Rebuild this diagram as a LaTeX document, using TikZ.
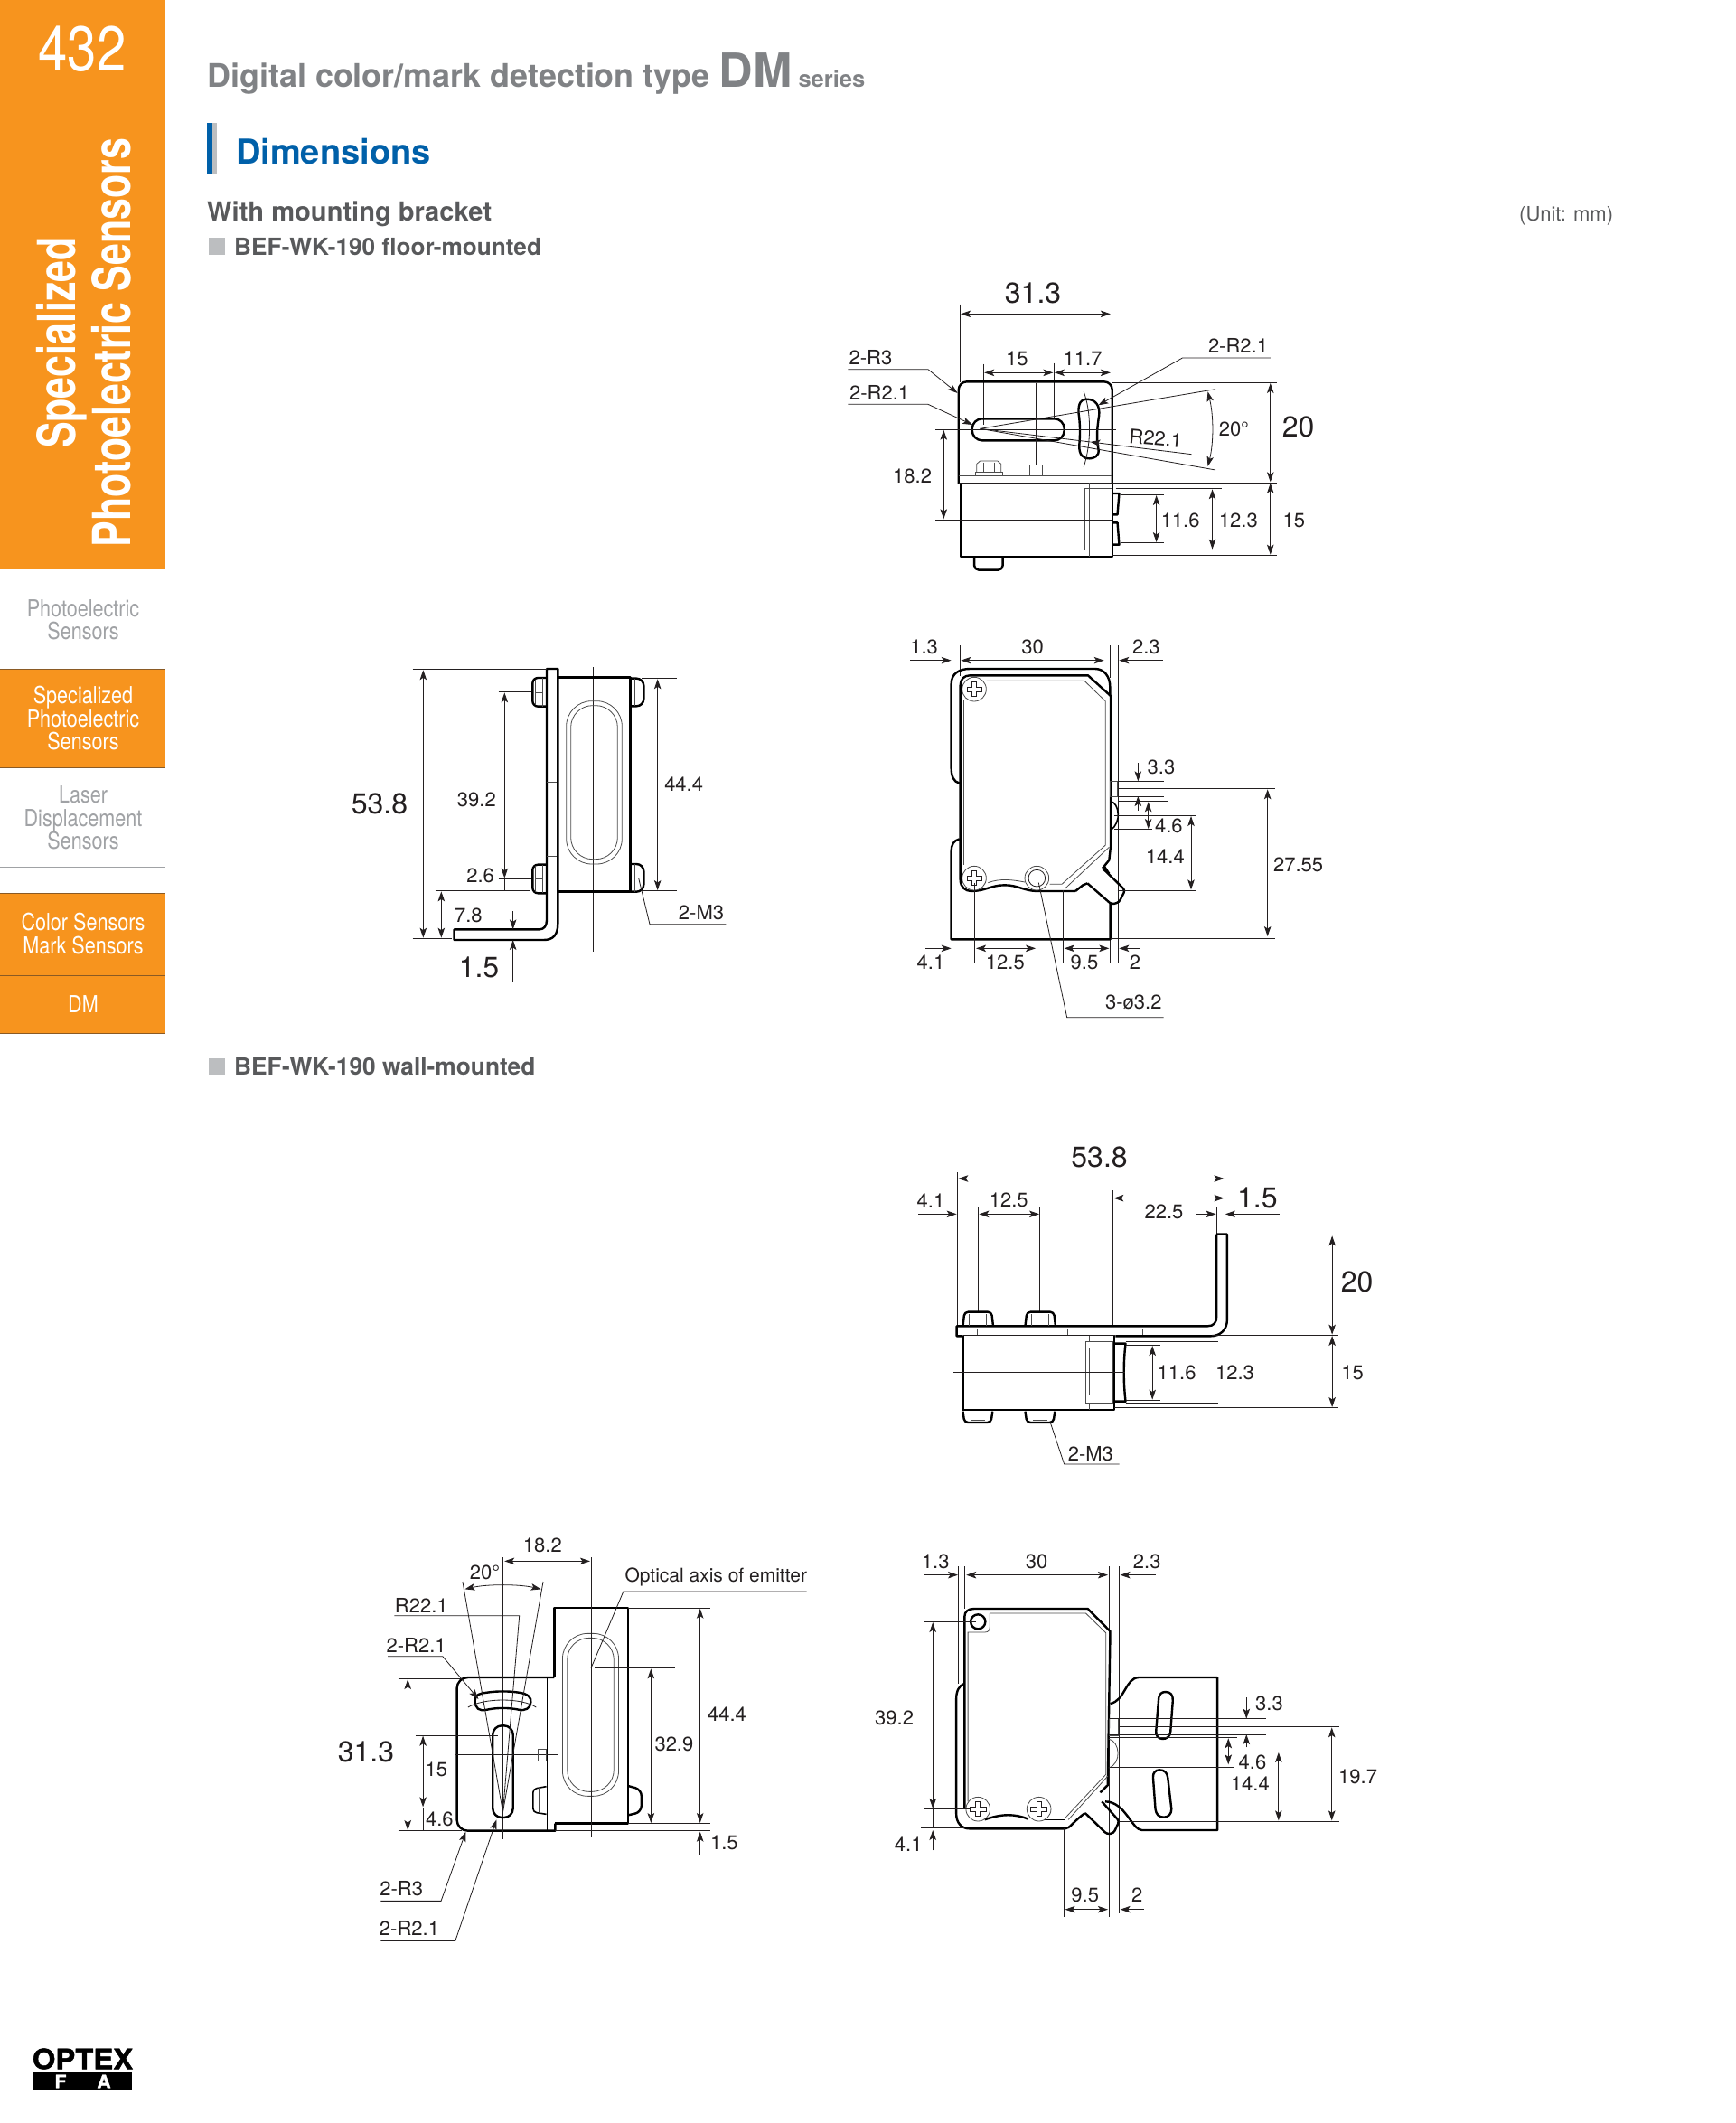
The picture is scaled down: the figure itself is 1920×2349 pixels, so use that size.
\documentclass[tikz,border=0pt]{standalone}
\usepackage{fontspec}
\setmainfont{TeX Gyre Heros}
\newfontfamily\condfont[FakeStretch=0.83]{TeX Gyre Heros}
\newfontfamily\sidefont[FakeStretch=0.74]{TeX Gyre Heros}
\newfontfamily\logofont[FakeStretch=1.06,FakeBold=1.5]{TeX Gyre Heros}
\usetikzlibrary{arrows.meta}
\usetikzlibrary{calc}
\definecolor{tabor}{HTML}{F7941E}
\definecolor{tabln}{HTML}{8A5A24}
\definecolor{ttlgr}{HTML}{808285}
\definecolor{txtgr}{HTML}{58595B}
\definecolor{sqrgr}{HTML}{BCBEC0}
\definecolor{sidgr}{HTML}{A0A2A5}
\definecolor{dimbl}{HTML}{0060A9}
\definecolor{inkcl}{HTML}{231F20}
\newcommand{\fsz}[1]{\fontsize{#1}{#1}\selectfont}
\newcommand{\plusmark}[2]{\draw[inkcl,line width=.8pt] (#1,#2) ++(-7,-24) -- ++(14,0) -- ++(0,17) -- ++(17,0) -- ++(0,14) -- ++(-17,0) -- ++(0,17) -- ++(-14,0) -- ++(0,-17) -- ++(-17,0) -- ++(0,-14) -- ++(17,0) -- cycle;}
\tikzset{
 bodyln/.style={black,line width=2.4pt,line join=round},
 fineln/.style={black!70,line width=.8pt},
 extln/.style={inkcl,line width=.8pt},
 dimln/.style={inkcl,line width=.8pt,{Stealth[length=11pt,width=7.5pt,inset=2.5pt]}-{Stealth[length=11pt,width=7.5pt,inset=2.5pt]}},
 oneln/.style={inkcl,line width=.8pt,-{Stealth[length=11pt,width=7.5pt,inset=2.5pt]}},
 dimtxt/.style={text=inkcl,font=\fsz{22},inner sep=0pt},
 bigtxt/.style={text=inkcl,font=\fsz{32},inner sep=0pt},
 sidtxt/.style={align=center,inner sep=0pt,font=\condfont\fontsize{26}{25.5}\selectfont},
}
\begin{document}
\begin{tikzpicture}[x=1pt,y=-1pt]
\useasboundingbox (0,0) rectangle (1920,2349);
\fill[white] (0,0) rectangle (1920,2349);
% side tab
\fill[tabor] (0,0) rectangle (183,630);
\fill[tabor] (0,740) rectangle (183,850);
\fill[tabor] (0,988) rectangle (183,1144);
\draw[tabln,line width=1pt] (0,740)--(183,740);
\draw[tabln,line width=1pt] (0,849.5)--(183,849.5);
\draw[sidgr,line width=1pt] (0,959.5)--(183,959.5);
\draw[tabln,line width=1pt] (0,988)--(183,988);
\draw[tabln,line width=1pt] (0,1079.5)--(183,1079.5);
\draw[tabln,line width=1pt] (0,1143.5)--(183,1143.5);
\node[text=white,inner sep=0pt,font=\condfont\fsz{70}] (pgno) at (91,54) {432};
\node[text=white,inner sep=0pt,align=center,rotate=90,font=\sidefont\bfseries\fontsize{58}{61}\selectfont] (sidettl) at (93,379) {Specialized\\Photoelectric Sensors};
\node[sidtxt,text=sidgr] (tab1) at (92,686) {Photoelectric\\Sensors};
\node[sidtxt,text=white] (tab2) at (92,795) {Specialized\\Photoelectric\\Sensors};
\node[sidtxt,text=sidgr] (tab3) at (92,905) {Laser\\Displacement\\Sensors};
\node[sidtxt,text=white] (tab4) at (92,1033) {Color Sensors\\Mark Sensors};
\node[sidtxt,text=white] (tab5) at (92,1111) {DM};
% headings
\node[anchor=base west,inner sep=0pt,text=ttlgr,font=\bfseries] (ttl) at (229,97) {\fsz{35.9}Digital color/mark detection type \fsz{52}DM\fsz{25.5} series};
\fill[dimbl] (229,136) rectangle (235,193);
\fill[sqrgr] (235,136) rectangle (240,193);
\node[anchor=base west,inner sep=0pt,text=dimbl,font=\bfseries\fsz{38}] (dimttl) at (261,182) {Dimensions};
\node[anchor=base west,inner sep=0pt,text=txtgr,font=\bfseries\fsz{29.1}] (brkttl) at (229,245) {With mounting bracket};
\fill[sqrgr] (231,263) rectangle (249,282);
\node[anchor=base west,inner sep=0pt,text=txtgr,font=\bfseries\fsz{26.2}] (floorttl) at (259,282) {BEF-WK-190 floor-mounted};
\fill[sqrgr] (231,1171) rectangle (249,1189);
\node[anchor=base west,inner sep=0pt,text=txtgr,font=\bfseries\fsz{26.3}] (wallttl) at (259,1189) {BEF-WK-190 wall-mounted};
\node[anchor=base west,inner sep=0pt,text=txtgr,font=\fsz{22}] (unit) at (1681,245) {(Unit: mm)};
% floor mounted, top view
\begin{scope}[shift={(900,290)},xscale=1/2.6,yscale=1/3]
\draw[extln] (421,140)--(421,400);
\draw[extln] (858,140)--(858,400);
\draw[dimln] (424,172)--(855,172);
\node[bigtxt] (aa1) at (632,103) {31.3};
\draw[extln] (490,338)--(490,540);
\draw[extln] (692,335)--(692,520);
\draw[dimln] (492,367)--(690,367);
\draw[dimln] (694,367)--(855,367);
\node[dimtxt] (aa2) at (586,320) {15};
\node[dimtxt] (aa3) at (775,320) {11.7};
\draw[bodyln,rounded corners=9pt] (418,735)--(418,397)--(860,397)--(860,733);
\draw[bodyln] (423,733)--(423,978)--(860,978)--(860,733);
\draw[inkcl,line width=1.2pt] (418,733)--(860,733);
\draw[fineln] (418,708)--(860,708);
\draw[bodyln,rounded corners=11pt] (457,520) rectangle (722,592);
\draw[bodyln] (785,455) .. controls (815,455) and (825,480) .. (822,510) .. controls (815,560) and (815,590) .. (820,620) .. controls (825,645) and (805,652) .. (795,652) .. controls (775,652) and (765,640) .. (765,610) .. controls (768,570) and (768,540) .. (763,500) .. controls (762,470) and (770,455) .. (785,455) -- cycle;
\draw[extln] (778,430) .. controls (800,500) and (800,600) .. (778,680);
\draw[extln] (352,555)--(870,555);
\draw[extln] (640,402)--(640,672);
\draw[extln] (480,553)--(1157,422);
\draw[extln] (480,553)--(1157,690);
\draw[extln] (480,553)--(797,597);
\draw[oneln] (1088,638)--(797,597);
\draw[fineln] (466,698) rectangle (544,708);
\draw[fineln] (470,698)--(470,670)--(480,660)--(530,660)--(540,670)--(540,698);
\draw[fineln] (490,665)--(490,698);
\draw[fineln] (520,665)--(520,698);
\draw[fineln] (623,673) rectangle (658,708);
\draw[bodyln,rounded corners=5pt] (463,978)--(463,1022)--(545,1022)--(545,978);
\draw[fineln] (780,752) rectangle (858,955);
\draw[fineln] (793,733)--(793,978);
\draw[bodyln] (860,768)--(880,768)--(875,838)--(860,838);
\draw[bodyln] (860,865)--(875,865)--(880,938)--(860,938);
\node[dimtxt] (aa4) at (165,318) {2-R3};
\draw[oneln] (100,356)--(330,356)--(415,435);
\node[dimtxt] (aa5) at (190,432) {2-R2.1};
\draw[oneln] (100,472)--(330,472)--(458,540);
\node[dimtxt] (aa6) at (1222,278) {2-R2.1};
\draw[oneln] (1315,318)--(1062,318)--(820,475);
\node[dimtxt,rotate=-5] (aa7) at (985,585) {R22.1};
\node[dimtxt] (aa8) at (1210,555) {20°};
\draw[dimln] (1135,430) .. controls (1152,510) and (1152,600) .. (1135,678);
\node[bigtxt] (aa9) at (1395,548) {20};
\draw[extln] (860,400)--(1333,400);
\draw[extln] (860,732)--(1333,732);
\draw[extln] (860,973)--(1333,973);
\draw[dimln] (1315,402)--(1315,730);
\draw[dimln] (1315,734)--(1315,971);
\node[dimtxt] (aa10) at (1383,858) {15};
\draw[extln] (870,752)--(1175,752);
\draw[extln] (870,955)--(1175,955);
\draw[dimln] (1148,754)--(1148,953);
\node[dimtxt] (aa11) at (1223,858) {12.3};
\draw[extln] (885,772)--(1010,772);
\draw[extln] (885,932)--(1010,932);
\draw[dimln] (987,774)--(987,930);
\node[dimtxt] (aa12) at (1056,858) {11.6};
\draw[extln] (352,855)--(858,855);
\draw[dimln] (375,557)--(375,853);
\node[dimtxt] (aa13) at (285,710) {18.2};
\end{scope}
% floor mounted, front view
\begin{scope}[shift={(990,690)},xscale=1/3,yscale=1/3]
\draw[extln] (190,72)--(190,150);
\draw[extln] (218,72)--(218,175);
\draw[extln] (715,72)--(715,180);
\draw[extln] (743,72)--(743,1128);
\draw[extln] (715,930)--(715,1128);
\draw[oneln] (52,122)--(188,122);
\draw[dimln] (220,122)--(695,122);
\draw[oneln] (890,122)--(745,122);
\node[dimtxt] (ab1) at (98,78) {1.3};
\node[dimtxt] (ab2) at (458,78) {30};
\node[dimtxt] (ab3) at (835,78) {2.3};
\draw[bodyln] (215,530) .. controls (195,525) and (188,505) .. (188,480) -- (188,200) .. controls (188,165) and (215,150) .. (250,150) -- (665,150) .. controls (695,150) and (715,175) .. (715,210) -- (715,240);
\draw[bodyln] (600,888) -- (475,888) .. controls (430,888) and (410,868) .. (365,868) .. controls (320,868) and (300,888) .. (255,888) .. controls (235,888) and (218,875) .. (218,850) -- (218,205) .. controls (218,185) and (230,172) .. (250,172) -- (642,172) -- (717,240) -- (717,740) -- (712,785) -- (690,812);
\draw[bodyln] (600,888)--(625,868)--(640,862);
\draw[bodyln,rounded corners=3pt] (640,862)--(720,932)--(745,925)--(765,885)--(750,870)--(690,812);
\draw[bodyln] (695,805)--(712,830);
\draw[bodyln] (215,715) .. controls (195,720) and (188,735) .. (188,755) -- (188,1048) -- (716,1048) -- (716,930);
\draw[fineln] (305,190)--(630,190)--(700,258)--(700,735)--(555,865)--(515,865);
\draw[fineln] (230,255)--(230,800);
\draw[fineln] (712,742)--(565,880);
\draw[fineln] (310,860) .. controls (350,845) and (390,850) .. (432,858);
\foreach \yy in {218,845}{
\draw[fineln,fill=white] (264,\yy) circle (40);
\plusmark{264}{\yy}
}
\draw[fineln,fill=white] (472,845) circle (40);
\draw[inkcl,line width=.8pt] (472,845) circle (28);
\draw[fineln] (715,523) rectangle (740,575);
\draw[bodyln,line width=1.6pt] (717,590) .. controls (745,595) and (755,660) .. (717,685);
\draw[extln] (740,523)--(893,523);
\draw[extln] (740,548)--(1262,548);
\draw[extln] (740,573)--(893,573);
\draw[extln] (743,590)--(905,590);
\draw[extln] (730,637)--(1000,637);
\draw[extln] (730,683)--(855,683);
\draw[extln] (740,885)--(1000,885);
\draw[extln] (716,1046)--(1262,1046);
\draw[oneln] (808,462)--(808,523);
\draw[oneln] (808,620)--(808,573);
\node[dimtxt] (ab4) at (885,478) {3.3};
\draw[dimln] (842,592)--(842,681);
\node[dimtxt] (ab5) at (910,672) {4.6};
\draw[dimln] (984,639)--(984,883);
\node[dimtxt] (ab6) at (898,772) {14.4};
\draw[dimln] (1238,550)--(1238,1038);
\node[dimtxt] (ab7) at (1340,802) {27.55};
\draw[extln] (190,1048)--(190,1128);
\draw[extln] (264,860)--(264,1128);
\draw[extln] (471,860)--(471,1128);
\draw[extln] (560,885)--(560,1128);
\draw[oneln] (102,1078)--(188,1078);
\draw[dimln] (270,1078)--(468,1078);
\draw[dimln] (563,1078)--(712,1078);
\draw[oneln] (812,1078)--(745,1078);
\node[dimtxt] (ab8) at (120,1125) {4.1};
\node[dimtxt] (ab9) at (367,1125) {12.5};
\node[dimtxt] (ab10) at (630,1125) {9.5};
\node[dimtxt] (ab11) at (798,1125) {2};
\draw[extln] (478,860)--(572,1307)--(893,1307);
\node[dimtxt] (ab12) at (793,1257) {3-ø3.2};
\end{scope}
% floor mounted, side view
\begin{scope}[shift={(370,720)},xscale=1/3,yscale=1/3]
\draw[extln] (858,55)--(858,1000);
\draw[bodyln] (705,895) -- (705,60) -- (742,60) -- (742,905) .. controls (742,945) and (725,960) .. (695,960) -- (398,960) -- (398,925) -- (680,925) .. controls (695,925) and (705,915) .. (705,895) -- cycle;
\draw[bodyln] (742,88)--(982,88)--(982,800)--(742,800);
\foreach \yy in {90,710}{
\draw[bodyln,rounded corners=6pt] (705,\yy)--(658,\yy)--(658,\yy+95)--(705,\yy+95);
\draw[fineln] (690,\yy)--(690,\yy+95);
\draw[fineln] (668,\yy+5)--(668,\yy+90);
\draw[fineln] (668,\yy+48)--(690,\yy+48);
}
\foreach \yy in {92,708}{
\draw[bodyln,rounded corners=8pt] (982,\yy)--(1027,\yy)--(1027,\yy+92)--(982,\yy+92);
\draw[fineln] (997,\yy)--(997,\yy+92);
}
\draw[fineln] (705,435)--(737,435);
\draw[fineln] (705,683)--(737,683);
\draw[fineln,rounded corners=28pt] (770,167) rectangle (955,708);
\draw[fineln,rounded corners=24pt] (785,182) rectangle (940,692);
\draw[extln] (260,62)--(705,62);
\draw[extln] (260,955)--(390,955);
\draw[dimln] (295,64)--(295,953);
\node[bigtxt] (ac1) at (150,508) {53.8};
\draw[extln] (545,137)--(655,137);
\draw[extln] (545,757)--(655,757);
\draw[dimln] (565,139)--(565,755);
\node[dimtxt] (ac2) at (472,495) {39.2};
\node[dimtxt] (ac3) at (485,747) {2.6};
\draw[extln] (335,797)--(650,797);
\draw[extln] (565,757)--(565,797);
\draw[dimln] (355,799)--(355,953);
\node[dimtxt] (ac4) at (445,880) {7.8};
\draw[oneln] (593,865)--(593,925);
\draw[oneln] (593,1098)--(593,960);
\node[bigtxt] (ac5) at (480,1050) {1.5};
\draw[extln] (1020,92)--(1138,92);
\draw[extln] (1020,797)--(1138,797);
\draw[dimln] (1073,94)--(1073,795);
\node[dimtxt] (ac6) at (1160,443) {44.4};
\draw[extln] (1010,755)--(1047,908)--(1300,908);
\node[dimtxt] (ac7) at (1218,868) {2-M3};
\end{scope}
% wall mounted, top view
\begin{scope}[shift={(1000,1260)},xscale=1/2.9,yscale=1/3]
\draw[dimln] (175,132)--(1028,132);
\node[bigtxt] (ad1) at (628,60) {53.8};
\draw[extln] (173,112)--(173,625);
\draw[extln] (1030,112)--(1030,315);
\draw[dimln] (674,197)--(1028,197);
\draw[extln] (672,172)--(672,620);
\node[dimtxt] (ad2) at (835,243) {22.5};
\draw[oneln] (937,250)--(1002,250);
\draw[oneln] (1205,250)--(1032,250);
\node[bigtxt] (ad3) at (1135,197) {1.5};
\draw[extln] (1004,225)--(1004,315);
\draw[oneln] (47,250)--(170,250);
\draw[dimln] (242,250)--(435,250);
\node[dimtxt] (ad4) at (87,205) {4.1};
\node[dimtxt] (ad5) at (337,203) {12.5};
\draw[extln] (238,225)--(238,575);
\draw[extln] (437,225)--(437,575);
\draw[bodyln] (1004,317)--(1038,317)--(1038,600) .. controls (1038,635) and (1015,655) .. (985,655)--(680,655);
\draw[bodyln] (1004,317)--(1004,590) .. controls (1004,610) and (995,622) .. (975,622)--(170,622)--(170,655)--(190,655);
\draw[extln] (190,652)--(680,652);
\draw[bodyln] (190,655)--(190,900)--(675,900)--(675,655);
\foreach \xx in {190,390}{
\draw[bodyln,rounded corners=4pt] (\xx,622)--(\xx+5,575)--(\xx+92,575)--(\xx+97,622);
\draw[fineln] (\xx+20,582)--(\xx+20,622);
\draw[fineln] (\xx+75,582)--(\xx+75,622);
\draw[bodyln,rounded corners=4pt] (\xx,905)--(\xx+5,942)--(\xx+90,942)--(\xx+95,905);
\draw[fineln] (\xx+25,934)--(\xx+70,934);
}
\foreach \xx in {235,527,767}{
\draw[fineln] (\xx,632)--(\xx,650);
}
\draw[fineln] (585,672) rectangle (670,877);
\draw[fineln] (597,695)--(597,850);
\draw[fineln] (597,655)--(597,672);
\draw[fineln] (597,877)--(597,900);
\draw[bodyln] (675,680)--(712,680) .. controls (705,740) and (705,810) .. (712,872)--(675,872);
\draw[extln] (160,775)--(710,775);
\draw[extln] (1040,320)--(1395,320);
\draw[extln] (990,652)--(1395,652);
\draw[extln] (675,893)--(1395,893);
\draw[extln] (712,672)--(1010,672);
\draw[extln] (712,878)--(1010,878);
\draw[extln] (712,685)--(825,685);
\draw[extln] (712,868)--(825,868);
\draw[dimln] (1375,322)--(1375,650);
\draw[dimln] (1375,654)--(1375,891);
\node[bigtxt] (ad6) at (1455,475) {20};
\node[dimtxt] (ad7) at (1440,778) {15};
\draw[dimln] (798,687)--(798,866);
\node[dimtxt] (ad8) at (876,778) {11.6};
\node[dimtxt] (ad9) at (1063,778) {12.3};
\draw[extln] (470,940)--(515,1080)--(692,1080);
\node[dimtxt] (ad10) at (600,1045) {2-M3};
\end{scope}
% wall mounted, side view
\begin{scope}[shift={(360,1690)},xscale=1/2.85,yscale=1/3]
\draw[bodyln] (722,498) [rounded corners=12pt] -- (415,498) -- (415,1007) -- (500,1007) [sharp corners] -- (725,1007) -- (725,983);
\draw[bodyln,line width=1.6pt] (700,498)--(700,1007);
\draw[bodyln] (722,498)--(722,267)--(955,267)--(955,983)--(725,983);
\draw[fineln,rounded corners=28pt] (748,352) rectangle (925,892);
\draw[fineln,rounded corners=24pt] (763,367) rectangle (910,877);
\draw[extln] (838,100)--(838,1030);
\draw[extln] (560,100)--(560,1035);
\draw[bodyln] (472,575) .. controls (470,555) and (490,550) .. (510,548) .. controls (540,543) and (580,543) .. (610,548) .. controls (640,552) and (650,565) .. (648,580) .. controls (648,600) and (630,610) .. (610,605) .. controls (580,598) and (540,598) .. (510,605) .. controls (485,612) and (472,600) .. (472,575) -- cycle;
\draw[bodyln,rounded corners=10pt] (528,658) rectangle (592,963);
\draw[extln] (450,597) .. controls (500,565) and (620,565) .. (665,597);
\draw[extln] (560,945)--(433,180);
\draw[extln] (560,945)--(687,180);
\draw[extln] (560,945)--(612,293)--(218,293);
\draw[dimln] (440,205) .. controls (510,188) and (610,188) .. (680,205);
\node[dimtxt] (ae1) at (503,150) {20°};
\draw[dimln] (565,112)--(835,112);
\node[dimtxt] (ae2) at (685,60) {18.2};
\node[dimtxt] (ae3) at (303,258) {R22.1};
\node[dimtxt] (ae4) at (287,392) {2-R2.1};
\draw[oneln] (197,428)--(370,428)--(483,570);
\draw[extln] (230,502)--(430,502);
\draw[extln] (230,1007)--(430,1007);
\draw[extln] (725,1007)--(1213,1007);
\draw[dimln] (260,504)--(260,1005);
\node[bigtxt] (ae5) at (128,745) {31.3};
\draw[extln] (285,690)--(545,690);
\draw[extln] (285,930)--(540,930);
\draw[dimln] (308,692)--(308,928);
\draw[extln] (308,930)--(308,1007);
\node[dimtxt] (ae6) at (350,803) {15};
\node[dimtxt] (ae7) at (360,968) {4.6};
\draw[extln] (410,755)--(732,755);
\draw[fineln] (670,735) rectangle (697,775);
\draw[bodyln,line width=1.6pt,rounded corners=4pt] (697,860)--(655,868)--(655,945)--(697,952);
\draw[fineln] (675,865)--(675,948);
\draw[bodyln,rounded corners=7pt] (955,858)--(997,870)--(997,945)--(955,955);
\draw[extln] (850,467)--(1103,467);
\draw[dimln] (1027,469)--(1027,981);
\node[dimtxt] (ae8) at (1100,720) {32.9};
\draw[extln] (955,267)--(1213,267);
\draw[extln] (955,983)--(1213,983);
\draw[dimln] (1182,269)--(1182,981);
\node[dimtxt] (ae9) at (1267,620) {44.4};
\draw[oneln] (1182,1085)--(1182,1010);
\node[dimtxt] (ae10) at (1258,1048) {1.5};
\node[dimtxt,font=\fsz{21}] (ae11) at (1232,165) {Optical axis of emitter};
\draw[extln] (1518,213)--(940,213)--(838,467);
\node[dimtxt] (ae12) at (240,1200) {2-R3};
\draw[oneln] (175,1240)--(365,1240)--(443,1010);
\node[dimtxt] (ae13) at (265,1330) {2-R2.1};
\draw[oneln] (175,1372)--(410,1372)--(540,970);
\end{scope}
% wall mounted, front view
\begin{scope}[shift={(960,1700)},xscale=1/2.7,yscale=1/3]
\draw[extln] (272,100)--(272,490);
\draw[extln] (290,100)--(290,240);
\draw[extln] (722,100)--(722,1262);
\draw[extln] (752,100)--(752,1250);
\draw[oneln] (168,128)--(270,128);
\draw[dimln] (295,128)--(718,128);
\draw[oneln] (860,128)--(755,128);
\node[dimtxt] (af1) at (203,85) {1.3};
\node[dimtxt] (af2) at (505,85) {30};
\node[dimtxt] (af3) at (835,85) {2.3};
\draw[bodyln] (725,555) .. controls (770,545) and (770,470) .. (810,468) -- (1045,468) -- (1045,975) -- (820,975) .. controls (790,975) and (770,880) .. (710,880);
\draw[bodyln] (890,516) .. controls (905,516) and (913,525) .. (912,545) -- (905,650) .. controls (903,665) and (893,672) .. (882,672) .. controls (868,672) and (860,660) .. (862,645) -- (870,535) .. controls (872,522) and (880,516) .. (890,516) -- cycle;
\draw[bodyln] (872,775) .. controls (888,775) and (895,785) .. (897,800) -- (908,905) .. controls (908,922) and (898,932) .. (885,932) .. controls (870,932) and (862,922) .. (860,905) -- (853,800) .. controls (852,785) and (860,775) .. (872,775) -- cycle;
\draw[bodyln] (290,905)--(290,265) .. controls (290,250) and (300,240) .. (318,240)--(658,240)--(725,315)--(718,795)--(718,825)--(695,850);
\draw[bodyln] (290,488) .. controls (272,495) and (265,515) .. (265,540)--(265,920) .. controls (265,950) and (280,970) .. (305,970)--(590,970) .. controls (605,970) and (615,945) .. (650,918);
\draw[bodyln,rounded corners=3pt] (650,918)--(715,988)--(735,985)--(752,945)--(700,880);
\draw[bodyln] (350,940) .. controls (400,920) and (440,920) .. (480,938);
\draw[bodyln,line width=1.6pt] (530,940)--(590,940);
\draw[fineln] (365,255)--(652,255)--(712,320)--(712,790)--(590,935);
\draw[fineln] (718,795)--(600,940);
\draw[fineln] (300,880)--(300,318)--(350,318) .. controls (362,318) and (365,310) .. (365,300)--(365,255);
\draw[bodyln] (330,283) ellipse (22 and 24);
\foreach \xx in {330,512}{
\draw[fineln,fill=white] (\xx,905) ellipse (36 and 40);
\plusmark{\xx}{905}
}
\draw[fineln] (722,605) rectangle (750,660);
\draw[fineln] (720,672) .. controls (755,680) and (760,755) .. (720,768);
\draw[extln] (722,605)--(1190,605);
\draw[extln] (750,632)--(1410,632);
\draw[extln] (722,657)--(1190,657);
\draw[extln] (722,667)--(1103,667);
\draw[extln] (735,715)--(1252,715);
\draw[extln] (722,765)--(1095,765);
\draw[extln] (752,945)--(1410,945);
\draw[oneln] (1132,535)--(1132,605);
\draw[oneln] (1132,700)--(1132,657);
\node[dimtxt] (af4) at (1200,555) {3.3};
\draw[dimln] (1078,670)--(1078,757);
\node[dimtxt] (af5) at (1150,750) {4.6};
\draw[dimln] (1228,717)--(1228,943);
\node[dimtxt] (af6) at (1143,820) {14.4};
\draw[dimln] (1387,634)--(1387,943);
\node[dimtxt] (af7) at (1465,797) {19.7};
\draw[extln] (170,283)--(325,283);
\draw[extln] (170,905)--(310,905);
\draw[dimln] (195,285)--(195,903);
\node[dimtxt] (af8) at (80,603) {39.2};
\draw[extln] (195,905)--(195,968);
\draw[extln] (160,968)--(290,968);
\draw[oneln] (195,1042)--(195,975);
\node[dimtxt] (af9) at (122,1022) {4.1};
\draw[extln] (586,970)--(586,1262);
\draw[dimln] (590,1238)--(718,1238);
\draw[oneln] (825,1238)--(755,1238);
\node[dimtxt] (af10) at (650,1190) {9.5};
\node[dimtxt] (af11) at (805,1190) {2};
\end{scope}
% logo
\fill[black] (37,2293) rectangle (146,2312);
\node[inner sep=0pt,font=\logofont\bfseries\fsz{31}] (logotop) at (91.5,2278) {OPTEX};
\node[inner sep=0pt,text=white,font=\logofont\bfseries\fsz{20}] (logof) at (67,2303) {F};
\node[inner sep=0pt,text=white,font=\logofont\bfseries\fsz{20}] (logoa) at (115,2303) {A};
\end{tikzpicture}
\end{document}
